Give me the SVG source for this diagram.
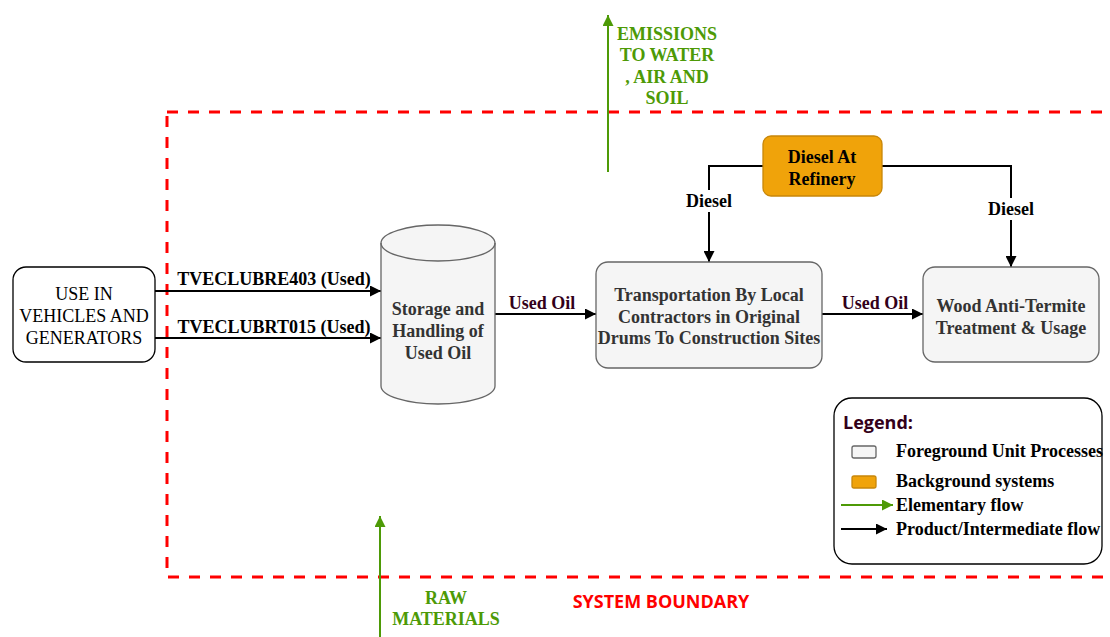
<svg xmlns="http://www.w3.org/2000/svg" width="1110" height="637" viewBox="0 0 1110 637">
<defs>
<marker id="ab" viewBox="0 0 10 10" refX="10" refY="5" markerWidth="11" markerHeight="11" markerUnits="userSpaceOnUse" orient="auto"><path d="M0,0 L10,5 L0,10 z" fill="#000"/></marker>
<marker id="ag" viewBox="0 0 10 10" refX="10" refY="5" markerWidth="11" markerHeight="11" markerUnits="userSpaceOnUse" orient="auto"><path d="M0,0 L10,5 L0,10 z" fill="#4d9a06"/></marker>
</defs>
<style>
.fg{fill:#f5f5f5;stroke:#666;stroke-width:1.3}
.bg{fill:#f0a30a;stroke:#c8870a;stroke-width:1.3}
.t{font-family:"Liberation Serif","Times New Roman",serif;font-size:18px;text-anchor:middle}
.b{font-weight:bold}
.g3{fill:#333}
.k{fill:#000}
.m{fill:#33001a}
.gr{fill:#4d9a06}
.ln{fill:none;stroke:#000;stroke-width:2}
.gl{fill:none;stroke:#4d9a06;stroke-width:2}
.lt{font-family:"Liberation Serif","Times New Roman",serif;font-size:18px;font-weight:bold;fill:#000}
.sn{font-family:"Open Sans","Noto Sans",sans-serif;font-size:18px;font-weight:bold}
</style>
<rect id="boundary" x="167" y="112" width="960" height="465" fill="none" stroke="#ff0000" stroke-width="3" stroke-dasharray="11 10"/>
<g id="connectors">
<line class="ln" x1="155" y1="291" x2="381" y2="291" marker-end="url(#ab)"/>
<line class="ln" x1="155" y1="338" x2="381" y2="338" marker-end="url(#ab)"/>
<line class="ln" x1="495" y1="314" x2="596" y2="314" marker-end="url(#ab)"/>
<line class="ln" x1="822" y1="314" x2="923" y2="314" marker-end="url(#ab)"/>
<polyline class="ln" points="763,166 709,166 709,262" marker-end="url(#ab)"/>
<polyline class="ln" points="882,166 1011,166 1011,267" marker-end="url(#ab)"/>
<line class="gl" x1="608" y1="172" x2="608" y2="15" marker-end="url(#ag)"/>
<line class="gl" x1="380" y1="637" x2="380" y2="516" marker-end="url(#ag)"/>
<rect x="682" y="190" width="54" height="22" fill="#fff"/>
<rect x="984" y="198" width="54" height="22" fill="#fff"/>
<text class="t b k" x="709" y="207">Diesel</text>
<text class="t b k" x="1011" y="215">Diesel</text>
<text class="t b k" x="274" y="285">TVECLUBRE403 (Used)</text>
<text class="t b k" x="274" y="333">TVECLUBRT015 (Used)</text>
<text class="t b m" x="542" y="309">Used Oil</text>
<text class="t b m" x="875" y="309">Used Oil</text>
</g>
<g id="use">
<rect x="13" y="267" width="142" height="95" rx="13" fill="#fff" stroke="#000" stroke-width="1.3"/>
<text class="t k" x="84" y="300">USE IN</text>
<text class="t k" x="84" y="322">VEHICLES AND</text>
<text class="t k" x="84" y="344">GENERATORS</text>
</g>
<g id="storage">
<path class="fg" d="M381,243 A57,18 0 0 1 495,243 L495,386 A57,18 0 0 1 381,386 Z"/>
<path fill="none" stroke="#666" stroke-width="1.3" d="M381,243 A57,18 0 0 0 495,243"/>
<text class="t b g3" x="438" y="315">Storage and</text>
<text class="t b g3" x="438" y="337">Handling of</text>
<text class="t b g3" x="438" y="359">Used Oil</text>
</g>
<g id="transport">
<rect class="fg" x="596" y="262" width="226" height="106" rx="12"/>
<text class="t b g3" x="709" y="301">Transportation By Local</text>
<text class="t b g3" x="709" y="323">Contractors in Original</text>
<text class="t b g3" x="709" y="344">Drums To Construction Sites</text>
</g>
<g id="wood">
<rect class="fg" x="923" y="267" width="176" height="95" rx="12"/>
<text class="t b g3" x="1011" y="312">Wood Anti-Termite</text>
<text class="t b g3" x="1011" y="334">Treatment &amp; Usage</text>
</g>
<g id="diesel">
<rect class="bg" x="763" y="136" width="119" height="60" rx="8"/>
<text class="t b k" x="822" y="163">Diesel At</text>
<text class="t b k" x="822" y="185">Refinery</text>
</g>
<g id="emissions">
<text class="t b gr" x="667" y="40">EMISSIONS</text>
<text class="t b gr" x="667" y="61">TO WATER</text>
<text class="t b gr" x="667" y="83">, AIR AND</text>
<text class="t b gr" x="667" y="104">SOIL</text>
</g>
<g id="raw">
<text class="t b gr" x="446" y="604">RAW</text>
<text class="t b gr" x="446" y="625">MATERIALS</text>
</g>
<text class="sn" x="661" y="608" fill="#ff0000" text-anchor="middle">SYSTEM BOUNDARY</text>
<g id="legend">
<rect x="834" y="398" width="268" height="166" rx="18" fill="#fff" stroke="#000" stroke-width="1.3"/>
<text class="sn" x="843" y="429" fill="#33001a">Legend:</text>
<rect class="fg" x="852" y="446" width="24" height="12" rx="2"/>
<text class="lt" x="896" y="457">Foreground Unit Processes</text>
<rect class="bg" x="852" y="476" width="24" height="12" rx="2"/>
<text class="lt" x="896" y="487">Background systems</text>
<line class="gl" x1="841" y1="505" x2="893" y2="505" marker-end="url(#ag)"/>
<text class="lt" x="896" y="511">Elementary flow</text>
<line class="ln" x1="841" y1="529" x2="887" y2="529" marker-end="url(#ab)"/>
<text class="lt" x="896" y="535">Product/Intermediate flow</text>
</g>
</svg>
